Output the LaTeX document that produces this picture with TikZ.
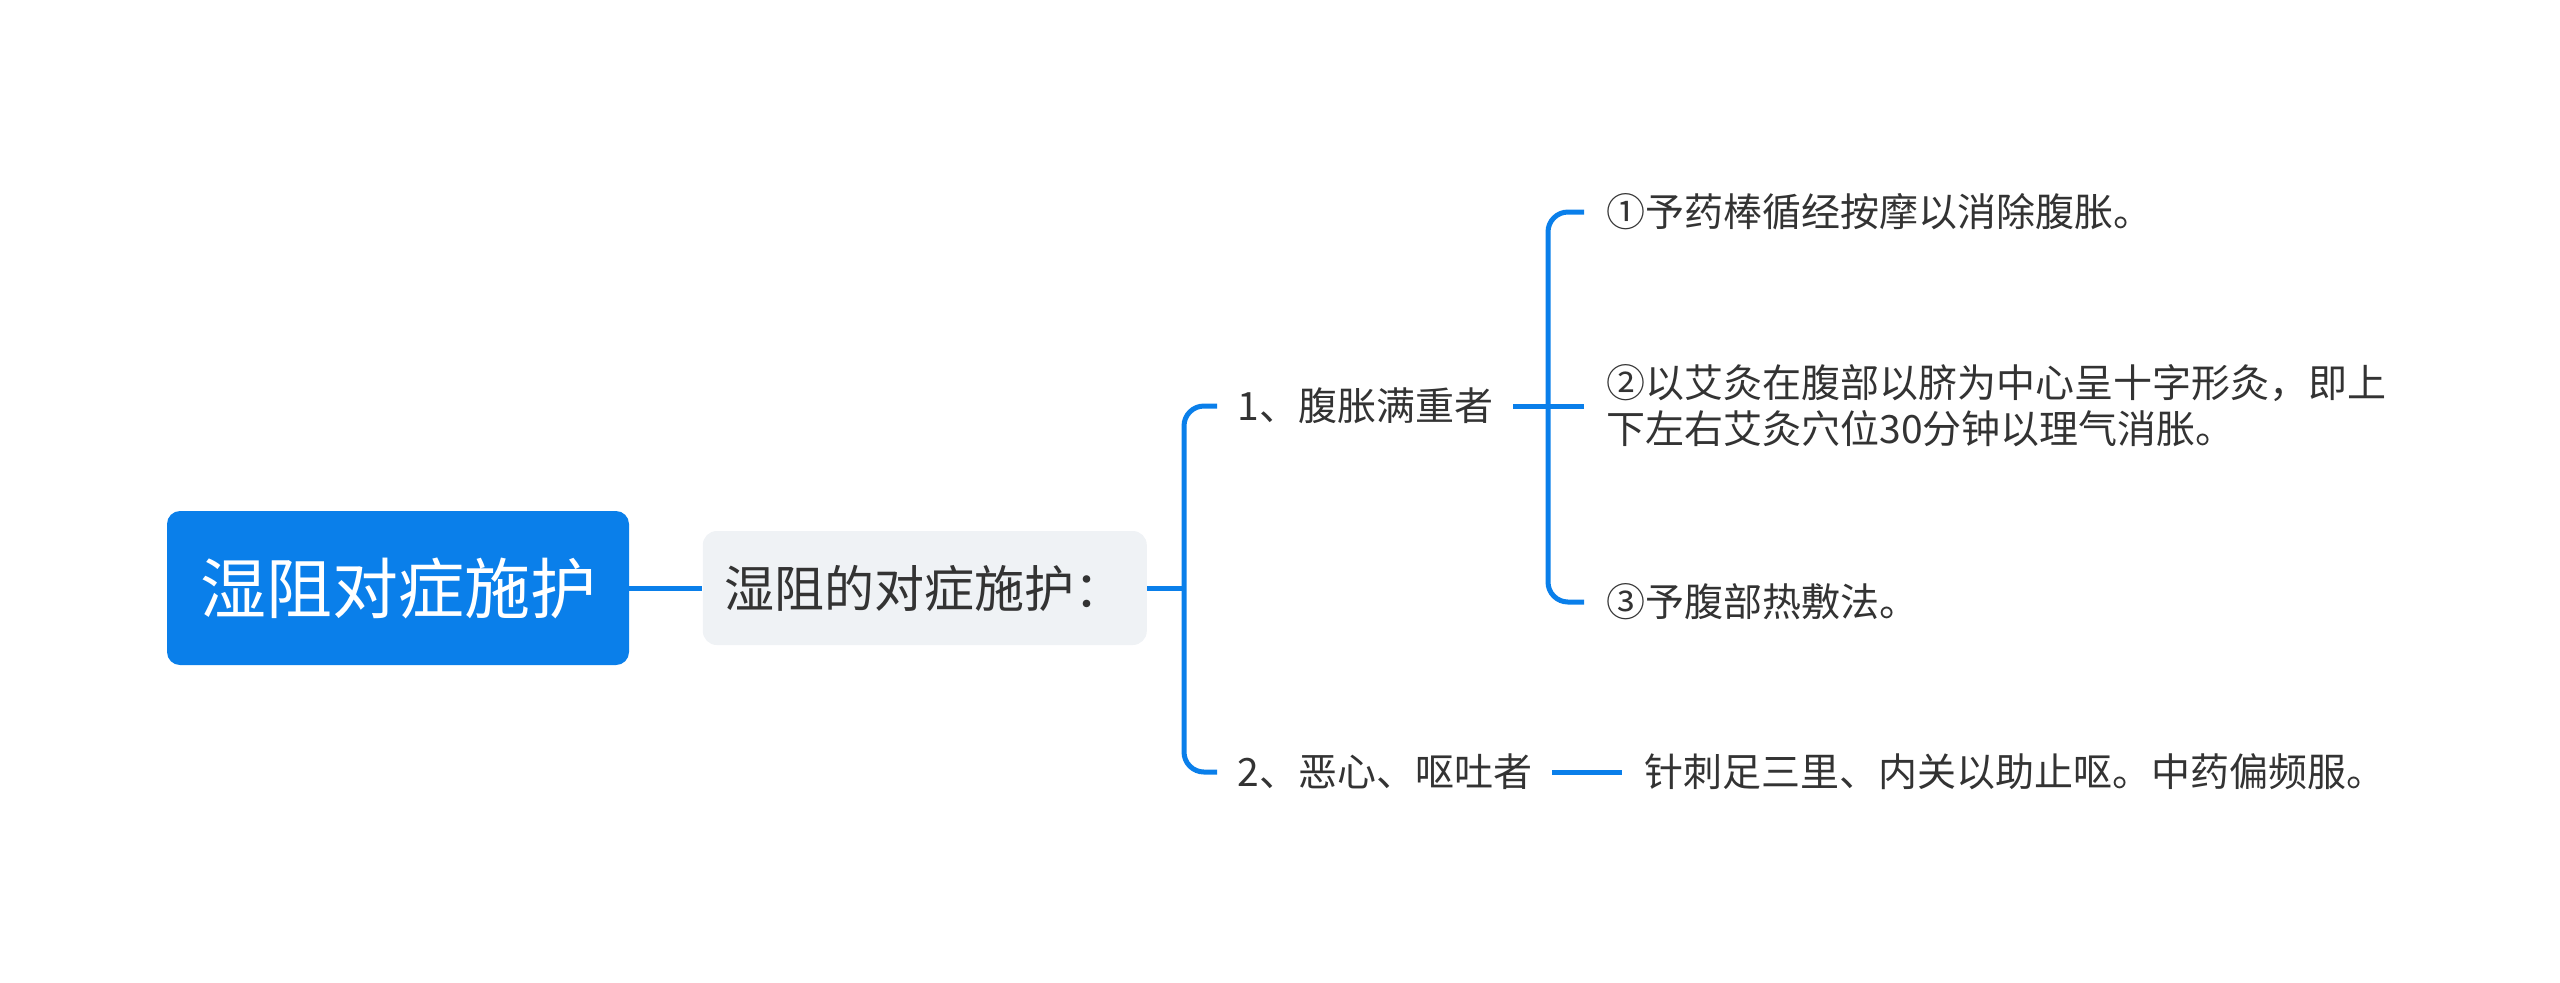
\documentclass[tikz,border=0pt]{standalone}
\usepackage{fontspec}
\setmainfont{Noto Sans CJK SC}
\usepackage{tikz}
\usetikzlibrary{positioning}
\definecolor{mapblue}{RGB}{10,127,234}
\definecolor{topicgray}{RGB}{239,242,245}
\definecolor{textdark}{RGB}{51,51,51}

\begin{document}
\begin{tikzpicture}[
	x = 0.5pt, y = -0.5pt,
	root/.style =
	{fill=mapblue, rounded corners=6.5pt, text=white,
		font=\fontsize{33}{40}\selectfont, inner xsep=16.5pt, minimum height=77pt},
	topic/.style =
	{fill=topicgray, rounded corners=7pt, text=textdark,
		font=\fontsize{25}{30}\selectfont, inner xsep=11pt, minimum height=57pt},
	branch/.style = {text=textdark, font=\fontsize{19.5}{23}\selectfont, inner xsep=10pt},
	leaf/.style = {branch, inner xsep=11pt, align=left, anchor=west},
	link/.style = {draw=mapblue, line width=2.5pt, rounded corners=10pt}
	]
	\useasboundingbox (0,0) rectangle (2560,982);
	% main topic and its one subtopic
	\node [root] (root) at (398,588) {湿阻对症施护};
	\node [topic, right=36.5pt of root] (topic) {湿阻的对症施护：};
	% two cases
	\node [branch, anchor=west] (belly) at (1217,406) {1、腹胀满重者};
	\node [branch, anchor=west] (nausea) at (1217,772) {2、恶心、呕吐者};
	% treatments
	\node [leaf] (massage) at (1584,212) {①予药棒循经按摩以消除腹胀。};
	\node [leaf] (moxa) at (1584,406) {②以艾灸在腹部以脐为中心呈十字形灸，即上\\下左右艾灸穴位30分钟以理气消胀。};
	\node [leaf] (compress) at (1584,602) {③予腹部热敷法。};
	\node [leaf, right=35pt of nausea] (needle) {针刺足三里、内关以助止呕。中药偏频服。};
	% connectors
	\coordinate (fork) at (1184,588);
	\coordinate (forkbelly) at (1548,406);
	\draw [link] (root.east) -- (topic.west);
	\draw [link] (topic.east) -- (fork);
	\draw [link] (belly.west) -| (fork) |- (nausea.west);
	\draw [link] (belly.east) -- (moxa.west);
	\draw [link] (massage.west) -| (forkbelly) |- (compress.west);
	\draw [link] (nausea.east) -- (needle.west);
\end{tikzpicture}
\end{document}
